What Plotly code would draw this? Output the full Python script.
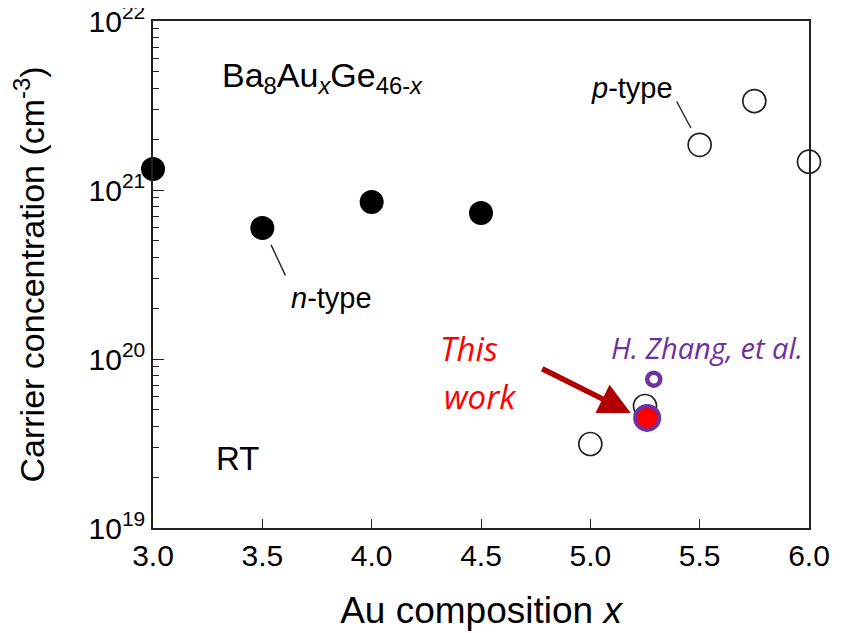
import plotly.graph_objects as go

# n-type (filled)
n_x = [3.0, 3.5, 4.0, 4.5]
n_y = [1.33e21, 5.96e20, 8.5e20, 7.3e20]
# p-type (open)
p_x = [5.0, 5.25, 5.5, 5.75, 6.0]
p_y = [3.14e19, 5.27e19, 1.85e21, 3.36e21, 1.47e21]
# this work
tw_x = [5.26]
tw_y = [4.48e19]
# H. Zhang et al.
hz_x = [5.29]
hz_y = [7.6e19]

y_tickvals = [1e19, 1e20, 1e21, 1e22]
y_ticktext = ["10<sup>19</sup>", "10<sup>20</sup>", "10<sup>21</sup>", "10<sup>22</sup>"]
x_tickvals = [3.0, 3.5, 4.0, 4.5, 5.0, 5.5, 6.0]
x_ticktext = ["3.0", "3.5", "4.0", "4.5", "5.0", "5.5", "6.0"]
minor_vals = [m * 10.0 ** e for e in (19, 20, 21) for m in range(2, 10)]

FONT = "Liberation Sans, Arial, sans-serif"
ITAL = "Open Sans, Liberation Sans, sans-serif"

fig = go.Figure()
fig.add_trace(go.Scatter(x=n_x, y=n_y, mode="markers", cliponaxis=False,
                         marker=dict(size=24, color="black")))
fig.add_trace(go.Scatter(x=p_x, y=p_y, mode="markers", cliponaxis=False,
                         marker=dict(size=23, color="white", line=dict(color="#222", width=1.7))))
fig.add_trace(go.Scatter(x=hz_x, y=hz_y, mode="markers", cliponaxis=False,
                         marker=dict(size=13, color="white", line=dict(color="#7030A0", width=4.5))))
fig.add_trace(go.Scatter(x=tw_x, y=tw_y, mode="markers", cliponaxis=False,
                         marker=dict(size=24, color="#FF0000", line=dict(color="#7030A0", width=4))))

ann = []
def txt(x, ly, t, size, color="black", family=FONT):
    ann.append(dict(x=x, y=ly, xref="x", yref="y", text=t, showarrow=False,
                    font=dict(size=size, color=color, family=family)))

txt(3.774, 21.663, "Ba<sub>8</sub>Au<sub><i>x</i></sub>Ge<sub>46-<i>x</i></sub>", 34)
txt(3.385, 19.414, "RT", 33)
txt(5.189, 21.604, "<i>p</i>-type", 29)
txt(3.815, 20.361, "<i>n</i>-type", 29)
txt(4.447, 20.065, "<i>This</i>", 33, "#FF0000", ITAL)
txt(4.498, 19.781, "<i>work</i>", 33, "#FF0000", ITAL)
txt(5.533, 20.071, "<i>H. Zhang, et al.</i>", 29, "#7030A0", ITAL)

# leader lines
ann.append(dict(x=3.540, y=20.675, xref="x", yref="y", text="", showarrow=True,
                arrowhead=0, arrowwidth=1.4, arrowcolor="#222", ax=15, ay=32))
ann.append(dict(x=5.460, y=21.367, xref="x", yref="y", text="", showarrow=True,
                arrowhead=0, arrowwidth=1.4, arrowcolor="#222", ax=-15, ay=-28))
# arrow to this work
ann.append(dict(x=5.185, y=19.680, xref="x", yref="y", text="", showarrow=True,
                arrowhead=2, arrowsize=1.15, arrowwidth=5.5, arrowcolor="#B00000",
                axref="x", ayref="y", ax=4.773, ay=19.947))

fig.update_layout(
    width=836, height=625,
    margin=dict(l=145, r=35, t=13, b=105, autoexpand=False),
    paper_bgcolor="white", plot_bgcolor="white",
    showlegend=False,
    annotations=ann,
    font=dict(family=FONT, color="black"),
)
fig.update_xaxes(range=[3.0, 6.0], tickvals=x_tickvals, ticktext=x_ticktext,
                 ticks="inside", ticklen=9, tickwidth=1.3, tickcolor="#222",
                 showline=True, linecolor="#222", linewidth=1.5, mirror=True,
                 showgrid=False, zeroline=False, automargin=False,
                 ticklabeloverflow="allow",
                 tickfont=dict(size=30, family=FONT),
                 title=dict(text="Au composition <i>x</i>", font=dict(size=37, family=FONT), standoff=26))
fig.update_yaxes(type="log", range=[19, 22], tickvals=y_tickvals, ticktext=y_ticktext,
                 ticks="inside", ticklen=11, tickwidth=1.3, tickcolor="#222",
                 minor=dict(tickvals=minor_vals, ticks="inside", ticklen=6, tickwidth=1.1, tickcolor="#222", showgrid=False),
                 showline=True, linecolor="#222", linewidth=1.5, mirror=True,
                 showgrid=False, zeroline=False, automargin=False,
                 ticklabeloverflow="allow",
                 tickfont=dict(size=30, family=FONT),
                 title=dict(text="Carrier concentration (cm<sup>-3</sup>)", font=dict(size=34, family=FONT), standoff=34))

fig.write_html("out.html")
